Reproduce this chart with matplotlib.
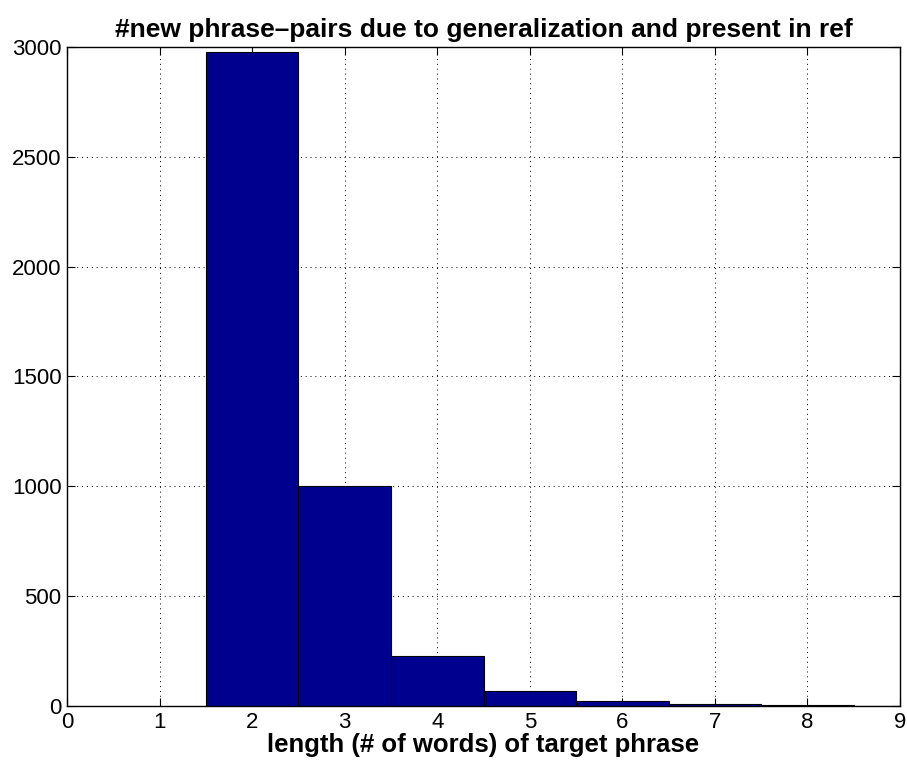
import numpy as np
import matplotlib.pyplot as plt

plt.rcParams['font.family'] = ['Liberation Sans', 'DejaVu Sans']

lengths = [2, 3, 4, 5, 6, 7, 8, 9]
counts = [2976, 1003, 226, 68, 23, 7, 4, 1]

fig = plt.figure(figsize=(9.07, 7.65), dpi=100)
ax = fig.add_axes([0.0739, 0.0771, 0.9184, 0.8615])

ax.bar(lengths, counts, width=1.0, color='#00008F', edgecolor='black', linewidth=0.8)

ax.set_xlim(0, 9)
ax.set_ylim(0, 3000)
ax.set_xticks(range(0, 10))
ax.set_yticks(range(0, 3001, 500))
ax.tick_params(direction='in', top=True, right=True, labelsize=16, length=6, pad=4)
ax.grid(True, linestyle=(0, (1, 4)), color='black', linewidth=0.7)
ax.set_axisbelow(True)
for s in ax.spines.values():
    s.set_linewidth(1.0)
    s.set_zorder(3)

ax.set_title('#new phrase\u2013pairs due to generalization and present in ref',
             fontsize=19, fontweight='bold', pad=7)
ax.set_xlabel('length (# of words) of target phrase', fontsize=18.5,
              fontweight='bold', labelpad=0)

plt.savefig('out.png', dpi=100)
